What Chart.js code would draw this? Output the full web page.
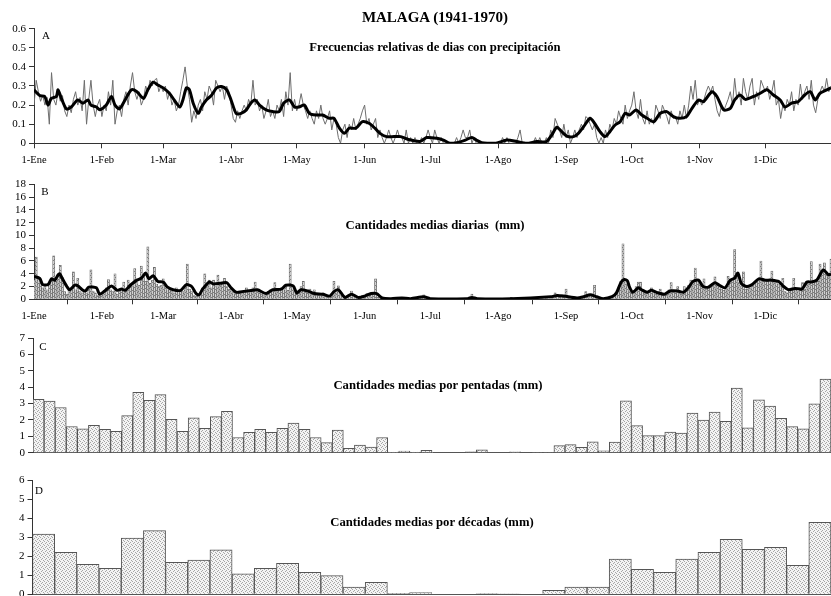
<!DOCTYPE html>
<html>
<head>
<meta charset="utf-8">
<script src="https://cdn.jsdelivr.net/npm/chart.js@4/dist/chart.umd.min.js"></script>
<style>
  body { margin: 0; background: #fff; width: 831px; height: 596px; position: relative; overflow: hidden;
         font-family: 'Liberation Serif', 'Times New Roman', serif; }
  canvas { position: absolute; left: 0; }
  .t { position: absolute; font-weight: bold; white-space: nowrap; transform: translate(-50%, -50%); color: #000; }
  .p { position: absolute; font-size: 11px; transform: translate(-50%, -50%); color: #000; }
</style>
</head>
<body>
<canvas id="cA" width="831" height="180" style="top:0px"></canvas>
<canvas id="cB" width="831" height="160" style="top:170px"></canvas>
<canvas id="cC" width="831" height="144" style="top:325px"></canvas>
<canvas id="cD" width="831" height="146" style="top:465px"></canvas>

<div class="t" style="left:435px;top:17px;font-size:15px">MALAGA (1941-1970)</div>
<div class="t" style="left:435px;top:47px;font-size:12.7px">Frecuencias relativas de dias con precipitación</div>
<div class="t" style="left:435px;top:225px;font-size:12.7px">Cantidades medias diarias&nbsp; (mm)</div>
<div class="t" style="left:438px;top:385px;font-size:12.7px">Cantidades medias por pentadas (mm)</div>
<div class="t" style="left:432px;top:522px;font-size:12.7px">Cantidades medias por décadas (mm)</div>
<div class="p" style="left:46px;top:35px">A</div>
<div class="p" style="left:45px;top:191px">B</div>
<div class="p" style="left:43px;top:346px">C</div>
<div class="p" style="left:39px;top:490px">D</div>

<script>
// Month start days (day index from 1 January) and their labels
const monthStarts = [0, 31, 59, 90, 120, 151, 181, 212, 243, 273, 304, 334];
const monthLabels = ['1-Ene', '1-Feb', '1-Mar', '1-Abr', '1-May', '1-Jun',
                     '1-Jul', '1-Ago', '1-Sep', '1-Oct', '1-Nov', '1-Dic'];

// A: daily relative frequency of days with precipitation (one value per day)
const freqDaily = [
  // Ene
  0.20,0.33,0.27,0.22,0.25,0.20,0.24,0.10,0.37,0.23,0.20,0.27,0.22,0.25,0.17,0.14,0.20,0.16,0.23,0.27,0.20,0.24,0.17,0.33,0.10,0.23,0.33,0.20,0.14,0.20,0.23,
  // Feb
  0.14,0.20,0.17,0.27,0.20,0.33,0.10,0.17,0.20,0.14,0.23,0.27,0.20,0.30,0.37,0.27,0.23,0.27,0.20,0.23,0.30,0.27,0.33,0.30,0.33,0.34,0.27,0.30,
  // Mar
  0.27,0.30,0.23,0.27,0.20,0.23,0.17,0.20,0.27,0.33,0.40,0.30,0.23,0.11,0.17,0.13,0.20,0.23,0.17,0.27,0.23,0.30,0.27,0.20,0.33,0.30,0.27,0.30,0.23,0.30,0.27,
  // Abr
  0.20,0.13,0.11,0.17,0.13,0.17,0.20,0.17,0.23,0.20,0.33,0.20,0.23,0.17,0.20,0.13,0.17,0.23,0.14,0.17,0.13,0.20,0.17,0.23,0.14,0.27,0.20,0.37,0.17,0.23,
  // May
  0.17,0.20,0.26,0.20,0.17,0.13,0.17,0.13,0.10,0.17,0.13,0.20,0.13,0.10,0.13,0.17,0.07,0.13,0.10,0.03,0.00,0.07,0.10,0.03,0.10,0.07,0.13,0.07,0.10,0.13,0.17,
  // Jun
  0.20,0.10,0.13,0.07,0.10,0.13,0.03,0.07,0.03,0.00,0.03,0.07,0.03,0.00,0.03,0.07,0.03,0.03,0.00,0.07,0.00,0.03,0.00,0.03,0.00,0.00,0.03,0.00,0.03,0.07,
  // Jul
  0.03,0.00,0.07,0.03,0.00,0.03,0.00,0.00,0.00,0.00,0.00,0.00,0.03,0.00,0.03,0.07,0.03,0.03,0.07,0.00,0.03,0.00,0.00,0.00,0.00,0.00,0.00,0.00,0.00,0.00,0.00,
  // Ago
  0.00,0.00,0.03,0.00,0.03,0.00,0.00,0.00,0.00,0.03,0.07,0.00,0.00,0.00,0.00,0.00,0.00,0.03,0.00,0.03,0.00,0.00,0.03,0.00,0.07,0.03,0.13,0.10,0.07,0.03,0.10,
  // Sep
  0.03,0.07,0.00,0.03,0.07,0.03,0.07,0.10,0.07,0.14,0.13,0.10,0.07,0.10,0.03,0.00,0.03,0.00,0.07,0.03,0.10,0.07,0.13,0.10,0.17,0.13,0.10,0.20,0.13,0.17,
  // Oct
  0.20,0.27,0.17,0.13,0.23,0.13,0.10,0.17,0.10,0.13,0.10,0.20,0.17,0.13,0.20,0.17,0.14,0.10,0.17,0.13,0.14,0.10,0.17,0.13,0.20,0.13,0.20,0.30,0.23,0.33,0.20,
  // Nov
  0.23,0.20,0.23,0.27,0.30,0.27,0.30,0.23,0.17,0.14,0.20,0.17,0.20,0.23,0.27,0.20,0.34,0.23,0.27,0.20,0.34,0.27,0.23,0.30,0.34,0.20,0.27,0.23,0.33,0.30,
  // Dic
  0.27,0.30,0.23,0.27,0.33,0.20,0.23,0.13,0.20,0.17,0.23,0.20,0.27,0.17,0.23,0.20,0.31,0.23,0.27,0.30,0.23,0.33,0.20,0.16,0.23,0.27,0.30,0.27,0.34,0.27,0.30
];

// A: smoothed frequency curve (day, value)
const freqSmoothDay = [0,2.6,4.9,6.4,7.9,10.2,11,12.5,14.8,17,20,22.4,24.7,26,28.5,30,33,35.4,37,39,41.6,44.5,47,50,52,54.4,56.6,59,62,64,66.6,68,69.6,71,72.7,75,76.5,78.7,81,83.4,85.7,88,90,92.3,94.6,97,99,100.9,103,106,109,112,114,116.6,119,121,123.5,125.7,128.8,131.8,134.9,137,139.5,141.8,144,147,150,153,155.7,158,161,164.4,167.5,171,176.3,179.3,184,187,190,193,197,200,202,204.5,211,216,220.5,225,229.6,234,236.5,238.8,241,243.3,246.4,248.6,251,254,256,258.5,260.8,263,265.4,267.7,270,272,275,277.6,280,283,286,289,292,295,298,300.5,303.5,305.8,309.6,311.9,315,318,320,322.5,324.8,328.6,331.7,334.7,337.7,340.8,343,346,349,352,354.5,356.8,359,364];
const freqSmoothVal = [0.28,0.25,0.245,0.20,0.235,0.245,0.28,0.235,0.18,0.19,0.227,0.21,0.227,0.20,0.19,0.175,0.20,0.245,0.20,0.18,0.227,0.28,0.27,0.235,0.28,0.32,0.305,0.29,0.26,0.227,0.19,0.227,0.29,0.28,0.21,0.157,0.19,0.227,0.25,0.29,0.297,0.28,0.227,0.157,0.157,0.175,0.21,0.227,0.20,0.175,0.166,0.166,0.21,0.227,0.19,0.19,0.20,0.157,0.148,0.148,0.131,0.131,0.079,0.052,0.079,0.079,0.113,0.105,0.079,0.052,0.035,0.035,0.035,0.02,0.01,0.03,0.026,0.017,0.0,0.003,0.017,0.031,0.017,0.003,0.0,0.017,0.009,0.0,0.009,0.009,0.044,0.084,0.061,0.038,0.035,0.052,0.087,0.131,0.105,0.061,0.035,0.061,0.096,0.113,0.157,0.148,0.175,0.148,0.131,0.113,0.157,0.166,0.14,0.131,0.14,0.183,0.227,0.218,0.27,0.245,0.175,0.183,0.227,0.253,0.23,0.245,0.262,0.28,0.253,0.227,0.19,0.21,0.218,0.253,0.27,0.227,0.262,0.29];

// B: mean daily precipitation (mm), one value per day
const rainDaily = [
  // Ene
  3.0,6.6,3.2,2.5,1.8,2.0,1.5,2.6,3.0,6.8,2.8,3.2,5.3,3.4,1.2,0.8,1.4,1.6,4.3,1.5,3.3,1.2,1.0,1.4,0.9,1.6,4.6,1.3,1.0,0.6,0.5,
  // Feb
  1.0,1.4,1.8,3.1,1.5,1.2,4.0,0.8,1.2,1.6,2.7,1.5,3.0,2.4,2.0,4.8,2.6,2.2,5.2,3.6,2.8,8.2,2.5,3.0,5.0,2.4,2.0,2.2,
  // Mar
  3.2,2.0,1.5,1.6,1.2,1.0,1.8,1.3,1.5,1.2,2.0,5.5,1.6,1.2,0.6,0.5,0.7,1.0,1.8,4.0,2.2,3.0,1.8,3.0,2.0,3.8,2.2,2.4,3.3,2.0,1.6,
  // Abr
  1.6,1.2,0.8,1.0,1.3,0.9,1.4,1.8,1.0,1.2,1.8,2.7,1.4,1.0,0.8,0.6,0.9,1.2,1.5,1.4,2.6,1.3,1.6,1.8,1.5,2.0,1.4,5.5,2.0,1.2,
  // May
  0.8,1.4,2.0,2.8,1.2,1.0,1.6,0.8,1.5,0.7,0.9,0.6,1.0,0.7,0.4,0.5,0.9,2.8,1.0,2.1,0.6,0.2,0.3,0.5,0.6,1.3,0.4,0.2,0.3,0.4,0.6,
  // Jun
  0.4,0.9,0.7,1.0,0.8,3.2,0.3,0.2,0.1,0.2,0.1,0.0,0.1,0.2,0.1,0.3,0.2,0.2,0.1,0.0,0.1,0.0,0.1,0.0,0.1,0.2,0.3,0.7,0.2,0.1,
  // Jul
  0.1,0.0,0.1,0.0,0.0,0.1,0.0,0.0,0.0,0.0,0.0,0.0,0.1,0.0,0.0,0.1,0.2,0.1,0.3,0.8,0.2,0.1,0.0,0.0,0.0,0.0,0.0,0.0,0.0,0.0,0.0,
  // Ago
  0.0,0.0,0.0,0.1,0.0,0.1,0.3,0.1,0.0,0.0,0.0,0.0,0.0,0.0,0.0,0.0,0.1,0.0,0.0,0.0,0.1,0.0,0.2,0.0,0.4,0.3,1.0,0.6,0.4,0.7,0.3,
  // Sep
  1.6,0.4,0.3,0.2,0.1,0.2,0.3,0.5,0.4,1.2,0.6,0.8,0.5,2.2,0.3,0.2,0.1,0.1,0.2,0.3,0.2,0.4,0.6,1.0,1.8,2.8,8.7,3.0,2.4,1.2,
  // Oct
  1.0,1.4,2.0,2.7,2.7,1.2,0.9,1.0,1.2,1.8,1.3,0.8,1.2,1.6,0.7,0.8,1.0,1.5,2.6,1.2,1.0,2.0,1.3,0.8,2.0,1.4,2.2,3.0,2.6,4.9,3.0,
  // Nov
  2.4,1.8,3.2,1.6,1.8,2.2,2.5,3.5,2.2,2.0,1.6,1.4,2.0,3.6,3.0,3.2,7.8,3.8,2.6,2.0,4.3,1.6,2.0,1.8,2.4,2.6,3.0,3.2,6.0,2.8,
  // Dic
  3.0,2.8,3.2,4.4,2.6,3.0,2.4,2.0,3.3,1.2,1.0,1.6,1.4,3.3,1.5,1.2,1.8,2.6,1.6,2.8,2.4,5.9,2.6,3.0,2.8,5.5,4.0,5.7,4.2,3.5,6.3
];

// B: smoothed daily precipitation curve (day, mm)
const rainSmoothDay = [0,2.6,4,6.4,8,9.5,11,11.7,13,15,16.3,18.6,20,22,23.5,25,28.5,30,33,35.4,38,40,41.6,44,47,49,51,52.5,54.4,56.6,59,61,63.5,67,69.6,72,74,75.4,77,80,82,85,88,90,92.3,95,100,102,106,109,113,115,118.4,120,122,125,128,132,135,137,139,142,145,148,151,154,156.5,159,163,168,172,178,181,198,200,202.5,218,236,239,242,248,251,254,257,260,264,266,268,269.6,271,272,273.5,276,277.5,280,282,285,288,290.5,294,296.6,298.8,301,303.5,305.6,308,311,313,315.6,318,320,321.5,323,325.5,328,331,334,337,340,342.4,344.6,347.6,350.7,353,355,357.5,360.5,363,364];
const rainSmoothVal = [3.6,3.3,2.3,2.3,3.2,3.0,3.8,4.0,3.2,2.0,1.5,2.2,2.1,1.5,1.3,1.9,1.8,0.8,1.5,2.1,1.4,1.6,1.4,2.2,3.0,3.3,4.1,3.2,3.7,2.8,2.7,1.9,1.5,1.4,2.3,2.0,0.9,0.7,1.6,2.7,2.4,2.5,2.6,1.8,1.1,1.2,1.4,1.5,0.9,1.5,1.6,2.2,2.1,1.0,1.5,1.3,0.9,0.8,0.5,1.2,1.5,0.3,0.8,0.3,0.5,0.9,0.9,0.2,0.1,0.2,0.1,0.4,0.1,0.1,0.3,0.1,0.1,0.4,0.6,0.5,0.2,0.4,0.7,0.4,0.1,0.4,1.0,2.6,3.1,2.9,1.9,1.1,1.8,1.5,1.1,1.4,1.0,0.8,1.3,1.3,1.1,1.8,2.8,3.0,2.0,1.9,2.6,2.2,1.8,3.0,3.3,4.1,2.5,2.0,2.3,3.2,3.0,3.0,2.8,2.0,1.5,1.7,1.6,2.7,2.7,3.0,4.6,3.8,4.0];

// C: mean precipitation per pentad (72 pentads, mm)
const pentadRain = [3.25,3.15,2.76,1.60,1.46,1.67,1.42,1.30,2.26,3.68,3.19,3.54,2.03,1.30,2.13,1.48,2.20,2.52,
                    0.93,1.24,1.42,1.24,1.48,1.81,1.42,0.93,0.61,1.38,0.26,0.47,0.35,0.93,0.04,0.10,0.04,0.15,
                    0.00,0.00,0.00,0.05,0.18,0.00,0.00,0.06,0.00,0.03,0.03,0.43,0.49,0.33,0.67,0.12,0.65,3.17,
                    1.65,1.04,1.04,1.26,1.20,2.42,1.99,2.48,1.91,3.94,1.52,3.23,2.85,2.09,1.59,1.46,2.99,4.49];

// D: mean precipitation per decade (36 ten-day periods, mm)
const decadeRain = [3.16,2.20,1.57,1.36,2.95,3.34,1.68,1.80,2.34,1.08,1.36,1.63,
                    1.15,0.98,0.38,0.63,0.05,0.09,0.00,0.00,0.04,0.02,0.00,0.21,
                    0.38,0.38,1.85,1.31,1.15,1.85,2.20,2.88,2.36,2.47,1.52,3.78];

const FONT = 'Liberation Serif';
const AXIS = '#333';

// Fine stippled fills used for the bars
function stipple(bg, dot) {
  const c = document.createElement('canvas');
  c.width = 4; c.height = 4;
  const g = c.getContext('2d');
  g.fillStyle = bg;
  g.fillRect(0, 0, 4, 4);
  g.fillStyle = dot;
  [[0, 0], [2, 1], [1, 2], [3, 3]].forEach(([x, y]) => g.fillRect(x, y, 1, 1));
  return g.createPattern(c, 'repeat');
}
const dots = stipple('#f3f3f3', '#a6a6a6');
const dailyFill = stipple('#d2d2d2', '#808080');

function yAxis(max, step, width) {
  return {
    min: 0, max: max,
    ticks: { stepSize: step, autoSkip: false, color: '#000', font: { family: FONT, size: 11 }, padding: 3 },
    grid: { drawOnChartArea: false, drawTicks: true, tickLength: 5, color: AXIS },
    border: { display: true, color: AXIS, width: 1 },
    afterFit(s) { s.width = width; }
  };
}

function dayAxis(height) {
  return {
    type: 'linear', min: 0, max: 364, offset: false,
    afterBuildTicks(s) { s.ticks = monthStarts.map(v => ({ value: v })); },
    ticks: { autoSkip: false, maxRotation: 0, color: '#000', font: { family: FONT, size: 10.5 }, padding: 6,
             callback: (v, i) => monthLabels[i] },
    grid: { drawOnChartArea: false, drawTicks: true, tickLength: 5, color: AXIS },
    border: { display: true, color: AXIS, width: 1 },
    afterFit(s) { s.height = height; }
  };
}

function catAxis(labels, height) {
  return {
    type: 'category', labels: labels, offset: true,
    ticks: { display: false },
    grid: { display: false },
    border: { display: true, color: '#555', width: 1 },
    afterFit(s) { s.height = height; }
  };
}

const common = {
  responsive: false, animation: false, events: [],
  plugins: { legend: { display: false }, tooltip: { enabled: false }, title: { display: false } }
};

// A: relative frequencies
new Chart(document.getElementById('cA'), {
  type: 'line',
  data: {
    datasets: [
      { data: freqSmoothDay.map((d, i) => ({ x: d, y: freqSmoothVal[i] })),
        borderColor: '#000', borderWidth: 3, pointRadius: 0, tension: 0.25, order: 0 },
      { data: freqDaily.map((v, d) => ({ x: d, y: v })),
        borderColor: '#6e6e6e', borderWidth: 1, pointRadius: 0, tension: 0, order: 1 }
    ]
  },
  options: Object.assign({}, common, {
    layout: { autoPadding: false, padding: { top: 28.7, left: 0, right: 0, bottom: 0 } },
    scales: { x: dayAxis(36.7), y: yAxis(0.6, 0.1, 34) }
  })
});

// B: mean daily amounts
new Chart(document.getElementById('cB'), {
  type: 'bar',
  data: {
    datasets: [
      { type: 'line', data: rainSmoothDay.map((d, i) => ({ x: d, y: rainSmoothVal[i] })),
        borderColor: '#000', borderWidth: 3, pointRadius: 0, tension: 0.25, order: 0 },
      { type: 'bar', data: rainDaily.map((v, d) => ({ x: d, y: v })),
        backgroundColor: dailyFill, borderColor: '#666', borderWidth: 0.7, borderSkipped: 'bottom',
        barPercentage: 1, categoryPercentage: 1, order: 1 }
    ]
  },
  options: Object.assign({}, common, {
    layout: { autoPadding: false, padding: { top: 14.3, left: 0, right: 0, bottom: 0 } },
    scales: { x: dayAxis(30.7), y: yAxis(18, 2, 34) }
  })
});

function barChart(id, labels, values, yMax, top, xh, yw) {
  new Chart(document.getElementById(id), {
    type: 'bar',
    data: {
      labels: labels,
      datasets: [{ data: values, backgroundColor: dots, borderColor: '#555', borderWidth: 1,
                   borderSkipped: 'bottom', barPercentage: 1, categoryPercentage: 1 }]
    },
    options: Object.assign({}, common, {
      layout: { autoPadding: false, padding: { top: top, left: 0, right: 0, bottom: 0 } },
      scales: { x: catAxis(labels, xh), y: yAxis(yMax, 1, yw) }
    })
  });
}

// C: pentads, D: decades (the x band below the bars leaves room for the lowest y label)
barChart('cC', pentadRain.map((v, i) => String(i + 1)), pentadRain, 7, 13, 16.3, 33);
barChart('cD', decadeRain.map((v, i) => String(i + 1)), decadeRain, 6, 15, 16.7, 32.5);
</script>
</body>
</html>
